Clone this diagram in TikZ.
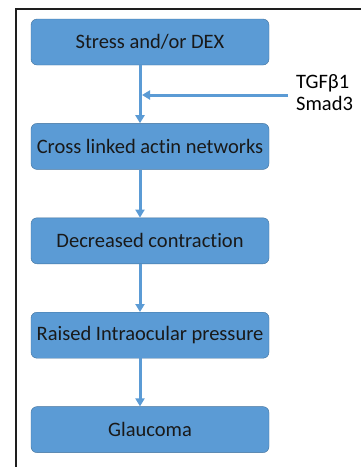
\documentclass[tikz,border=0pt]{standalone}
\usepackage{fontspec}
\setmainfont[Ligatures={NoCommon,NoRare}]{Carlito}
\usepackage{xcolor}
\usetikzlibrary{positioning, arrows.meta, calc}
\definecolor{boxblue}{HTML}{5B9BD5}
\definecolor{boxedge}{HTML}{41719C}
\definecolor{framegray}{HTML}{1E1E1E}
\tikzstyle{stage} = [rectangle, rounded corners=6pt, minimum width=238pt, minimum height=46pt, text centered, draw=boxedge, fill=boxblue, font=\fontsize{20.5}{24}\selectfont, text=black!90]
\tikzstyle{arrow} = [line width=3pt, draw=boxblue, -{Triangle[width=9pt,length=8pt]}]

\begin{document}
\begin{tikzpicture}[x=1pt, y=-1pt, node distance=48pt]
  \useasboundingbox (0,0) rectangle (361,467);
  \draw[framegray, line width=2pt] (16,467) -- (16,9) -- (361,9);

  \node (stress) [stage] at (150,42) {Stress and/or DEX};
  \node (actin) [stage, below=58pt of stress] {Cross linked actin networks};
  \node (contract) [stage, below=of actin] {Decreased contraction};
  \node (iop) [stage, below=of contract] {Raised Intraocular pressure};
  \node (glaucoma) [stage, below=of iop] {Glaucoma};
  \node (tgf) [align=left, anchor=west, font=\fontsize{20.5}{22}\selectfont, inner sep=0pt] at (296,93) {TGFβ1\\Smad3};

  \coordinate (join) at ($(tgf.west)+(-8pt,-2pt)$);
  \coordinate (trunk) at ([xshift=-8pt]stress.south);
  \draw[arrow] ([xshift=-10pt]stress.south) -- ([xshift=-10pt]actin.north);
  \draw[arrow] (join) -- (join -| trunk);
  \draw[arrow] ([xshift=-10pt]actin.south) -- ([xshift=-10pt]contract.north);
  \draw[arrow] ([xshift=-10pt]contract.south) -- ([xshift=-10pt]iop.north);
  \draw[arrow] ([xshift=-10pt]iop.south) -- ([xshift=-10pt]glaucoma.north);
\end{tikzpicture}
\end{document}
